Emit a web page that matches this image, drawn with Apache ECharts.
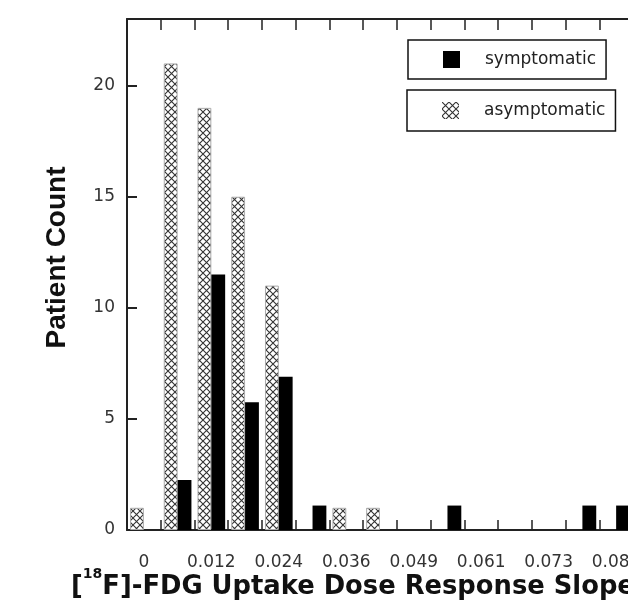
<!DOCTYPE html>
<html>
<head>
<meta charset="UTF-8">
<title></title>
<script type="text/javascript" src="https://cdn.jsdelivr.net/npm/echarts@6/dist/echarts.min.js"></script>
<style type="text/css">
	* { padding: 0; margin: 0; }
	#main { width: 628px; height: 605px; background: #fff; }
</style>
</head>
<body>
<div id="main"></div>
<script type="text/javascript">
	// bin labels (slope), every other one is printed
	var bins = ['0', '0.006', '0.012', '0.018', '0.024', '0.030', '0.036', '0.043',
		'0.049', '0.055', '0.061', '0.067', '0.073', '0.079', '0.085'];
	var asymptomatic = [1, 21, 19, 15, 11, 0, 1, 1, 0, 0, 0, 0, 0, 0, 0];
	var symptomatic = [0, 2.25, 11.5, 5.75, 6.9, 1.1, 0, 0, 0, 1.1, 0, 0, 0, 1.1, 1.1];
	var yTicks = [0, 5, 10, 15, 20];

	// empty bins are left out so nothing is drawn on the axis
	function skipZero(v) { return v === 0 ? '-' : v; }

	// cross hatch tile
	var tile = document.createElement('canvas');
	tile.width = 7;
	tile.height = 7;
	var ctx = tile.getContext('2d');
	ctx.fillStyle = '#fff';
	ctx.fillRect(0, 0, 7, 7);
	ctx.strokeStyle = '#333';
	ctx.lineWidth = 1.1;
	ctx.beginPath();
	ctx.moveTo(0, 0); ctx.lineTo(7, 7);
	ctx.moveTo(7, 0); ctx.lineTo(0, 7);
	ctx.stroke();
	var hatch = { image: tile, repeat: 'repeat' };

	var myChart = echarts.init(document.getElementById('main'));

	var lineStyle = { color: '#222', width: 2 };
	var tickStyle = { color: '#222', width: 1.5 };
	var legendBase = {
		orient: 'horizontal',
		selectedMode: false,
		icon: 'rect',
		itemWidth: 17,
		itemHeight: 17,
		borderColor: '#111',
		borderWidth: 1.5,
		borderRadius: 0,
		itemStyle: { borderWidth: 0 },
		textStyle: { fontFamily: 'DejaVu Sans', fontSize: 17, color: '#222', padding: [0, 0, 0, 20] }
	};

	myChart.setOption({
		animation: false,
		title: {
			text: '[{s|18}F]-FDG Uptake Dose Response Slope',
			left: 71,
			top: 567,
			padding: 0,
			textStyle: {
				fontFamily: 'DejaVu Sans',
				fontWeight: 'bold',
				fontSize: 25.8,
				lineHeight: 40,
				color: '#111',
				rich: {
					s: { fontFamily: 'DejaVu Sans', fontWeight: 'bold', fontSize: 14, lineHeight: 14, color: '#111', verticalAlign: 'top' }
				}
			}
		},
		legend: [
			echarts.util.merge({ data: ['symptomatic'], left: 408, top: 40, padding: [11, 10, 11, 35] }, legendBase),
			echarts.util.merge({ data: ['asymptomatic'], left: 407, top: 90, padding: [12, 10, 12, 35] }, legendBase)
		],
		grid: { left: 127, top: 19, bottom: 75, width: 506, outerBoundsMode: 'none', containLabel: false },
		xAxis: [{
			type: 'category',
			data: bins,
			position: 'bottom',
			axisLine: { show: true, lineStyle: lineStyle },
			axisTick: { show: true, inside: true, length: 10, interval: 0, lineStyle: tickStyle },
			axisLabel: { interval: 1, margin: 24, fontFamily: 'DejaVu Sans', fontSize: 17, color: '#333' },
			splitLine: { show: false }
		}, {
			type: 'category',
			data: bins,
			position: 'top',
			axisLine: { show: true, lineStyle: lineStyle },
			axisTick: { show: true, inside: true, length: 11, interval: 0, lineStyle: tickStyle },
			axisLabel: { show: false }
		}],
		yAxis: {
			type: 'value',
			position: 'left',
			min: 0,
			max: 23,
			interval: 5,
			name: 'Patient Count',
			nameLocation: 'middle',
			nameGap: 56,
			nameTextStyle: { fontFamily: 'Liberation Sans', fontWeight: 'bold', fontSize: 28, color: '#111', padding: [0, 0, 0, 34] },
			axisLine: { show: true, lineStyle: lineStyle },
			axisTick: { show: true, inside: true, length: 10, lineStyle: { color: '#222', width: 2 } },
			axisLabel: {
				margin: 12, fontFamily: 'DejaVu Sans', fontSize: 17, color: '#333',
				formatter: function (v) { return yTicks.indexOf(v) >= 0 ? v : ''; }
			},
			splitLine: { show: false }
		},
		series: [{
			name: 'asymptomatic',
			type: 'bar',
			data: asymptomatic.map(skipZero),
			barGap: '0%',
			barCategoryGap: '18%',
			itemStyle: { color: hatch, borderColor: '#aaa', borderWidth: 1 }
		}, {
			name: 'symptomatic',
			type: 'bar',
			data: symptomatic.map(skipZero),
			barGap: '0%',
			barCategoryGap: '18%',
			itemStyle: { color: '#000' }
		}]
	});
</script>
</body>
</html>
